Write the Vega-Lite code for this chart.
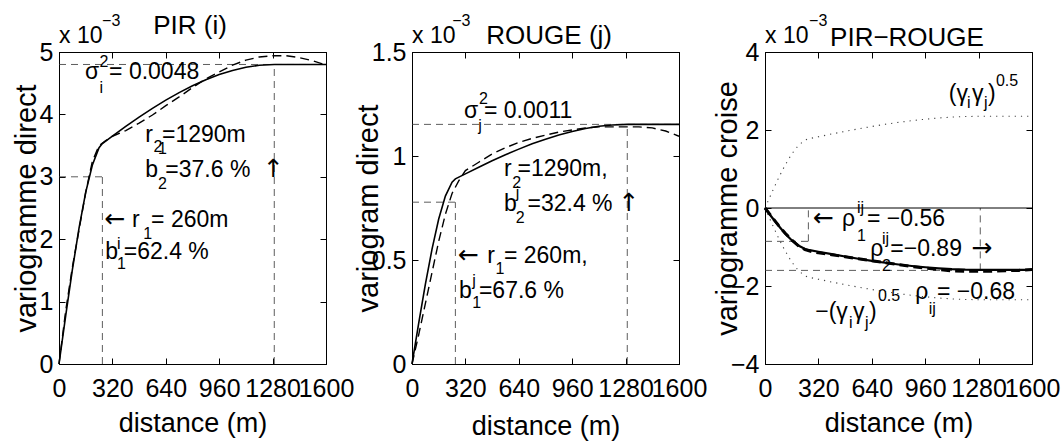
{
  "$schema": "https://vega.github.io/schema/vega-lite/v6.json",
  "background": "white",
  "padding": {"left": 11, "top": 12, "right": 5, "bottom": 2},
  "spacing": 86,
  "bounds": "flush",
  "config": {
    "font": "Liberation Sans",
    "view": {"stroke": "black", "strokeWidth": 1},
    "axis": {
      "grid": false, "domainColor": "black", "domainWidth": 1, "tickColor": "black", "tickSize": -6, "tickWidth": 1,
      "labelColor": "black", "labelFont": "Liberation Sans", "labelFontSize": 25, "labelOverlap": false, "labelFlush": false, "labelBound": false,
      "titleFont": "Liberation Sans", "titleFontWeight": "normal", "titleColor": "black"
    },
    "text": {"font": "Liberation Sans", "align": "left", "baseline": "alphabetic", "color": "black"}
  },
  "datasets": {
    "c1": [
      {"d":0,"v":0,"s":"modele"},{"d":40,"v":0.770,"s":"modele"},{"d":80,"v":1.507,"s":"modele"},{"d":120,"v":2.177,"s":"modele"},{"d":160,"v":2.750,"s":"modele"},{"d":200,"v":3.190,"s":"modele"},{"d":240,"v":3.467,"s":"modele"},{"d":260,"v":3.533,"s":"modele"},{"d":320,"v":3.653,"s":"modele"},{"d":400,"v":3.808,"s":"modele"},{"d":480,"v":3.956,"s":"modele"},{"d":560,"v":4.097,"s":"modele"},{"d":640,"v":4.228,"s":"modele"},{"d":720,"v":4.349,"s":"modele"},{"d":800,"v":4.459,"s":"modele"},{"d":880,"v":4.555,"s":"modele"},{"d":960,"v":4.638,"s":"modele"},{"d":1040,"v":4.705,"s":"modele"},{"d":1120,"v":4.755,"s":"modele"},{"d":1200,"v":4.787,"s":"modele"},{"d":1290,"v":4.8,"s":"modele"},{"d":1400,"v":4.8,"s":"modele"},{"d":1500,"v":4.8,"s":"modele"},{"d":1600,"v":4.8,"s":"modele"},
      {"d":0,"v":0,"s":"exp"},{"d":40,"v":0.85,"s":"exp"},{"d":80,"v":1.55,"s":"exp"},{"d":120,"v":2.15,"s":"exp"},{"d":160,"v":2.75,"s":"exp"},{"d":200,"v":3.25,"s":"exp"},{"d":240,"v":3.5,"s":"exp"},{"d":280,"v":3.58,"s":"exp"},{"d":320,"v":3.65,"s":"exp"},{"d":400,"v":3.74,"s":"exp"},{"d":480,"v":3.86,"s":"exp"},{"d":560,"v":3.99,"s":"exp"},{"d":640,"v":4.14,"s":"exp"},{"d":720,"v":4.28,"s":"exp"},{"d":800,"v":4.43,"s":"exp"},{"d":880,"v":4.57,"s":"exp"},{"d":960,"v":4.68,"s":"exp"},{"d":1040,"v":4.79,"s":"exp"},{"d":1120,"v":4.87,"s":"exp"},{"d":1200,"v":4.92,"s":"exp"},{"d":1280,"v":4.94,"s":"exp"},{"d":1360,"v":4.94,"s":"exp"},{"d":1440,"v":4.91,"s":"exp"},{"d":1520,"v":4.86,"s":"exp"},{"d":1600,"v":4.79,"s":"exp"}
    ],
    "c2": [
      {"d":0,"v":0,"s":"modele"},{"d":40,"v":0.195,"s":"modele"},{"d":80,"v":0.383,"s":"modele"},{"d":120,"v":0.552,"s":"modele"},{"d":160,"v":0.697,"s":"modele"},{"d":200,"v":0.807,"s":"modele"},{"d":240,"v":0.874,"s":"modele"},{"d":260,"v":0.890,"s":"modele"},{"d":320,"v":0.914,"s":"modele"},{"d":400,"v":0.946,"s":"modele"},{"d":480,"v":0.977,"s":"modele"},{"d":560,"v":1.006,"s":"modele"},{"d":640,"v":1.033,"s":"modele"},{"d":720,"v":1.059,"s":"modele"},{"d":800,"v":1.081,"s":"modele"},{"d":880,"v":1.101,"s":"modele"},{"d":960,"v":1.118,"s":"modele"},{"d":1040,"v":1.132,"s":"modele"},{"d":1120,"v":1.143,"s":"modele"},{"d":1200,"v":1.149,"s":"modele"},{"d":1290,"v":1.152,"s":"modele"},{"d":1400,"v":1.152,"s":"modele"},{"d":1500,"v":1.152,"s":"modele"},{"d":1600,"v":1.152,"s":"modele"},
      {"d":0,"v":0,"s":"exp"},{"d":40,"v":0.14,"s":"exp"},{"d":80,"v":0.29,"s":"exp"},{"d":120,"v":0.44,"s":"exp"},{"d":160,"v":0.59,"s":"exp"},{"d":200,"v":0.72,"s":"exp"},{"d":240,"v":0.82,"s":"exp"},{"d":280,"v":0.88,"s":"exp"},{"d":320,"v":0.93,"s":"exp"},{"d":400,"v":0.97,"s":"exp"},{"d":480,"v":1.01,"s":"exp"},{"d":560,"v":1.04,"s":"exp"},{"d":640,"v":1.065,"s":"exp"},{"d":720,"v":1.085,"s":"exp"},{"d":800,"v":1.10,"s":"exp"},{"d":880,"v":1.115,"s":"exp"},{"d":960,"v":1.125,"s":"exp"},{"d":1040,"v":1.135,"s":"exp"},{"d":1120,"v":1.14,"s":"exp"},{"d":1200,"v":1.14,"s":"exp"},{"d":1280,"v":1.14,"s":"exp"},{"d":1360,"v":1.14,"s":"exp"},{"d":1440,"v":1.135,"s":"exp"},{"d":1520,"v":1.12,"s":"exp"},{"d":1600,"v":1.095,"s":"exp"}
    ],
    "c3": [
      {"d":0,"v":0,"s":"modele"},{"d":40,"v":-0.230,"s":"modele"},{"d":80,"v":-0.450,"s":"modele"},{"d":120,"v":-0.652,"s":"modele"},{"d":160,"v":-0.825,"s":"modele"},{"d":200,"v":-0.961,"s":"modele"},{"d":240,"v":-1.050,"s":"modele"},{"d":260,"v":-1.073,"s":"modele"},{"d":320,"v":-1.121,"s":"modele"},{"d":400,"v":-1.184,"s":"modele"},{"d":480,"v":-1.244,"s":"modele"},{"d":560,"v":-1.301,"s":"modele"},{"d":640,"v":-1.354,"s":"modele"},{"d":720,"v":-1.403,"s":"modele"},{"d":800,"v":-1.448,"s":"modele"},{"d":880,"v":-1.487,"s":"modele"},{"d":960,"v":-1.520,"s":"modele"},{"d":1040,"v":-1.547,"s":"modele"},{"d":1120,"v":-1.568,"s":"modele"},{"d":1200,"v":-1.581,"s":"modele"},{"d":1290,"v":-1.586,"s":"modele"},{"d":1400,"v":-1.586,"s":"modele"},{"d":1500,"v":-1.586,"s":"modele"},{"d":1600,"v":-1.586,"s":"modele"},
      {"d":0,"v":0,"s":"exp"},{"d":40,"v":-0.22,"s":"exp"},{"d":80,"v":-0.44,"s":"exp"},{"d":120,"v":-0.64,"s":"exp"},{"d":160,"v":-0.82,"s":"exp"},{"d":200,"v":-0.97,"s":"exp"},{"d":240,"v":-1.07,"s":"exp"},{"d":280,"v":-1.12,"s":"exp"},{"d":320,"v":-1.15,"s":"exp"},{"d":400,"v":-1.20,"s":"exp"},{"d":480,"v":-1.25,"s":"exp"},{"d":560,"v":-1.30,"s":"exp"},{"d":640,"v":-1.35,"s":"exp"},{"d":720,"v":-1.40,"s":"exp"},{"d":800,"v":-1.45,"s":"exp"},{"d":880,"v":-1.50,"s":"exp"},{"d":960,"v":-1.54,"s":"exp"},{"d":1040,"v":-1.58,"s":"exp"},{"d":1120,"v":-1.61,"s":"exp"},{"d":1200,"v":-1.62,"s":"exp"},{"d":1280,"v":-1.62,"s":"exp"},{"d":1360,"v":-1.62,"s":"exp"},{"d":1440,"v":-1.61,"s":"exp"},{"d":1520,"v":-1.60,"s":"exp"},{"d":1600,"v":-1.58,"s":"exp"},
      {"d":0,"v":0,"s":"sup"},{"d":40,"v":0.387,"s":"sup"},{"d":80,"v":0.760,"s":"sup"},{"d":120,"v":1.096,"s":"sup"},{"d":160,"v":1.384,"s":"sup"},{"d":200,"v":1.604,"s":"sup"},{"d":240,"v":1.741,"s":"sup"},{"d":260,"v":1.773,"s":"sup"},{"d":320,"v":1.827,"s":"sup"},{"d":400,"v":1.898,"s":"sup"},{"d":480,"v":1.966,"s":"sup"},{"d":560,"v":2.030,"s":"sup"},{"d":640,"v":2.090,"s":"sup"},{"d":720,"v":2.146,"s":"sup"},{"d":800,"v":2.195,"s":"sup"},{"d":880,"v":2.239,"s":"sup"},{"d":960,"v":2.277,"s":"sup"},{"d":1040,"v":2.308,"s":"sup"},{"d":1120,"v":2.331,"s":"sup"},{"d":1200,"v":2.345,"s":"sup"},{"d":1290,"v":2.352,"s":"sup"},{"d":1400,"v":2.352,"s":"sup"},{"d":1500,"v":2.352,"s":"sup"},{"d":1600,"v":2.352,"s":"sup"},
      {"d":0,"v":0,"s":"inf"},{"d":40,"v":-0.387,"s":"inf"},{"d":80,"v":-0.760,"s":"inf"},{"d":120,"v":-1.096,"s":"inf"},{"d":160,"v":-1.384,"s":"inf"},{"d":200,"v":-1.604,"s":"inf"},{"d":240,"v":-1.741,"s":"inf"},{"d":260,"v":-1.773,"s":"inf"},{"d":320,"v":-1.827,"s":"inf"},{"d":400,"v":-1.898,"s":"inf"},{"d":480,"v":-1.966,"s":"inf"},{"d":560,"v":-2.030,"s":"inf"},{"d":640,"v":-2.090,"s":"inf"},{"d":720,"v":-2.146,"s":"inf"},{"d":800,"v":-2.195,"s":"inf"},{"d":880,"v":-2.239,"s":"inf"},{"d":960,"v":-2.277,"s":"inf"},{"d":1040,"v":-2.308,"s":"inf"},{"d":1120,"v":-2.331,"s":"inf"},{"d":1200,"v":-2.345,"s":"inf"},{"d":1290,"v":-2.352,"s":"inf"},{"d":1400,"v":-2.352,"s":"inf"},{"d":1500,"v":-2.352,"s":"inf"},{"d":1600,"v":-2.352,"s":"inf"}
    ],
    "r1": [{"d":0,"v":4.8,"d2":1600,"v2":4.8},{"d":0,"v":3.0,"d2":260,"v2":3.0},{"d":260,"v":0,"d2":260,"v2":3.0},{"d":1290,"v":0,"d2":1290,"v2":4.8}],
    "r2": [{"d":0,"v":1.152,"d2":1600,"v2":1.152},{"d":0,"v":0.778,"d2":260,"v2":0.778},{"d":260,"v":0,"d2":260,"v2":0.778},{"d":1290,"v":0,"d2":1290,"v2":1.152}],
    "r3": [{"d":0,"v":-1.6,"d2":1600,"v2":-1.6},{"d":0,"v":-0.855,"d2":260,"v2":-0.855},{"d":260,"v":-0.855,"d2":260,"v2":0},{"d":1290,"v":-1.6,"d2":1290,"v2":0}],
    "z3": [{"d":0,"v":0,"d2":1600,"v2":0}],
    "t1": [{"d":156,"v":4.57,"t":"σ"},{"d":300,"v":4.57,"t":"= 0.0048"},{"d":517,"v":3.55,"t":"r"},{"d":617,"v":3.55,"t":"=1290m"},{"d":517,"v":2.99,"t":"b"},{"d":637,"v":2.99,"t":"=37.6 %"},{"d":438,"v":2.2,"t":"r"},{"d":552,"v":2.2,"t":"= 260m"},{"d":277,"v":1.68,"t":"b"},{"d":388,"v":1.68,"t":"=62.4 %"},{"d":0,"v":5.15,"t":"x 10"}],
    "s1": [{"d":243,"v":4.76,"t":"2"},{"d":243,"v":4.34,"t":"i"},{"d":567,"v":3.39,"t":"2"},{"d":593,"v":3.36,"t":"1"},{"d":593,"v":2.8,"t":"2"},{"d":505,"v":2.0,"t":"1"},{"d":348,"v":1.84,"t":"i"},{"d":348,"v":1.52,"t":"1"},{"d":258,"v":5.42,"t":"−3"}],
    "a1": [{"d":1222,"v":2.99,"t":"↑"},{"d":272,"v":2.2,"t":"←"}],
    "t2": [{"d":311,"v":1.184,"t":"σ"},{"d":431,"v":1.184,"t":"= 0.0011"},{"d":551,"v":0.904,"t":"r"},{"d":632,"v":0.904,"t":"=1290m,"},{"d":551,"v":0.736,"t":"b"},{"d":692,"v":0.736,"t":"=32.4 %"},{"d":451,"v":0.487,"t":"r"},{"d":551,"v":0.487,"t":"= 260m,"},{"d":281,"v":0.319,"t":"b"},{"d":401,"v":0.319,"t":"=67.6 %"},{"d":0,"v":1.545,"t":"x 10"}],
    "s2": [{"d":401,"v":1.249,"t":"2"},{"d":397,"v":1.12,"t":"j"},{"d":601,"v":0.848,"t":"2"},{"d":621,"v":0.8,"t":"j"},{"d":621,"v":0.68,"t":"2"},{"d":501,"v":0.431,"t":"1"},{"d":361,"v":0.375,"t":"j"},{"d":361,"v":0.271,"t":"1"},{"d":241,"v":1.625,"t":"−3"}],
    "a2": [{"d":1238,"v":0.736,"t":"↑"},{"d":276,"v":0.487,"t":"←"}],
    "t3": [{"d":1101,"v":2.74,"t":"(γ"},{"d":1241,"v":2.74,"t":"γ"},{"d":1336,"v":2.74,"t":")"},{"d":461,"v":-0.46,"t":"ρ"},{"d":611,"v":-0.46,"t":"= −0.56"},{"d":631,"v":-1.23,"t":"ρ"},{"d":751,"v":-1.23,"t":"=−0.89"},{"d":901,"v":-2.34,"t":"ρ"},{"d":1031,"v":-2.34,"t":"= −0.68"},{"d":301,"v":-2.85,"t":"−(γ"},{"d":527,"v":-2.85,"t":"γ"},{"d":623,"v":-2.85,"t":")"},{"d":0,"v":4.24,"t":"x 10"}],
    "s3": [{"d":1211,"v":2.57,"t":"i"},{"d":1313,"v":2.57,"t":"j"},{"d":1384,"v":3.13,"t":"0.5"},{"d":551,"v":-0.12,"t":"ij"},{"d":551,"v":-0.846,"t":"1"},{"d":701,"v":-0.93,"t":"ij"},{"d":701,"v":-1.615,"t":"2"},{"d":981,"v":-2.73,"t":"ij"},{"d":503,"v":-3.08,"t":"i"},{"d":599,"v":-3.08,"t":"j"},{"d":677,"v":-2.38,"t":"0.5"},{"d":264,"v":4.67,"t":"−3"}],
    "a3": [{"d":287,"v":-0.46,"t":"←"},{"d":1236,"v":-1.23,"t":"→"}],
    "h1": [{"d":785,"v":5.29,"t":"PIR (i)"}],
    "h2": [{"d":822,"v":1.538,"t":"ROUGE (j)"}],
    "h3": [{"d":851,"v":4.15,"t":"PIR−ROUGE"}]
  },
  "hconcat": [
    {
      "width": 267, "height": 312,
      "layer": [
        {
          "layer": [
            {"data": {"name": "r1"}, "mark": {"type": "rule", "color": "#333", "strokeWidth": 0.8, "strokeDash": [7, 5]},
             "encoding": {
               "x": {"field": "d", "type": "quantitative", "scale": {"domain": [0, 1600], "nice": false},
                     "axis": {"orient": "bottom", "values": [0, 320, 640, 960, 1280, 1600], "format": "d", "title": "distance (m)", "titleFontSize": 27, "titleY": 67, "titleBaseline": "alphabetic", "labelPadding": 18}},
               "y": {"field": "v", "type": "quantitative", "scale": {"domain": [0, 5], "nice": false},
                     "axis": {"orient": "left", "values": [0, 1, 2, 3, 4, 5], "format": "~g", "title": "variogramme direct", "titleFontSize": 29, "titleX": -24, "titleBaseline": "alphabetic", "labelPadding": 12}},
               "x2": {"field": "d2"}, "y2": {"field": "v2"}}},
            {"data": {"name": "c1"}, "transform": [{"filter": "datum.s === 'exp'"}], "mark": {"type": "line", "color": "black", "strokeWidth": 1.4, "strokeDash": [9, 5]},
             "encoding": {"x": {"field": "d", "type": "quantitative", "scale": {"domain": [0, 1600], "nice": false}}, "y": {"field": "v", "type": "quantitative", "scale": {"domain": [0, 5], "nice": false}}}},
            {"data": {"name": "c1"}, "transform": [{"filter": "datum.s === 'modele'"}], "mark": {"type": "line", "color": "black", "strokeWidth": 1.6},
             "encoding": {"x": {"field": "d", "type": "quantitative", "scale": {"domain": [0, 1600], "nice": false}}, "y": {"field": "v", "type": "quantitative", "scale": {"domain": [0, 5], "nice": false}}}},
            {"data": {"name": "t1"}, "mark": {"type": "text", "fontSize": 23},
             "encoding": {"x": {"field": "d", "type": "quantitative", "scale": {"domain": [0, 1600], "nice": false}}, "y": {"field": "v", "type": "quantitative", "scale": {"domain": [0, 5], "nice": false}}, "text": {"field": "t"}}},
            {"data": {"name": "s1"}, "mark": {"type": "text", "fontSize": 16},
             "encoding": {"x": {"field": "d", "type": "quantitative", "scale": {"domain": [0, 1600], "nice": false}}, "y": {"field": "v", "type": "quantitative", "scale": {"domain": [0, 5], "nice": false}}, "text": {"field": "t"}}},
            {"data": {"name": "a1"}, "mark": {"type": "text", "fontSize": 25, "font": "DejaVu Sans"},
             "encoding": {"x": {"field": "d", "type": "quantitative", "scale": {"domain": [0, 1600], "nice": false}}, "y": {"field": "v", "type": "quantitative", "scale": {"domain": [0, 5], "nice": false}}, "text": {"field": "t"}}},
            {"data": {"name": "h1"}, "mark": {"type": "text", "fontSize": 26, "align": "center"},
             "encoding": {"x": {"field": "d", "type": "quantitative", "scale": {"domain": [0, 1600], "nice": false}}, "y": {"field": "v", "type": "quantitative", "scale": {"domain": [0, 5], "nice": false}}, "text": {"field": "t"}}}
          ]
        },
        {"data": {"name": "r1"}, "mark": {"type": "point", "opacity": 0},
         "encoding": {
           "x": {"field": "d", "type": "quantitative", "scale": {"domain": [0, 1600], "nice": false}, "axis": {"orient": "top", "labels": false, "title": null, "values": [0, 320, 640, 960, 1280, 1600]}},
           "y": {"field": "v", "type": "quantitative", "scale": {"domain": [0, 5], "nice": false}, "axis": {"orient": "right", "labels": false, "title": null, "values": [0, 1, 2, 3, 4, 5]}}}}
      ],
      "resolve": {"axis": {"x": "independent", "y": "independent"}}
    },
    {
      "width": 267, "height": 312,
      "layer": [
        {
          "layer": [
            {"data": {"name": "r2"}, "mark": {"type": "rule", "color": "#333", "strokeWidth": 0.8, "strokeDash": [7, 5]},
             "encoding": {
               "x": {"field": "d", "type": "quantitative", "scale": {"domain": [0, 1600], "nice": false},
                     "axis": {"orient": "bottom", "values": [0, 320, 640, 960, 1280, 1600], "format": "d", "title": "distance (m)", "titleFontSize": 27, "titleY": 70, "titleBaseline": "alphabetic", "labelPadding": 18}},
               "y": {"field": "v", "type": "quantitative", "scale": {"domain": [0, 1.5], "nice": false},
                     "axis": {"orient": "left", "values": [0, 0.5, 1, 1.5], "format": "~g", "title": "variogram direct", "titleFontSize": 29, "titleX": -35, "titleBaseline": "alphabetic", "labelPadding": 12}},
               "x2": {"field": "d2"}, "y2": {"field": "v2"}}},
            {"data": {"name": "c2"}, "transform": [{"filter": "datum.s === 'exp'"}], "mark": {"type": "line", "color": "black", "strokeWidth": 1.4, "strokeDash": [9, 5]},
             "encoding": {"x": {"field": "d", "type": "quantitative", "scale": {"domain": [0, 1600], "nice": false}}, "y": {"field": "v", "type": "quantitative", "scale": {"domain": [0, 1.5], "nice": false}}}},
            {"data": {"name": "c2"}, "transform": [{"filter": "datum.s === 'modele'"}], "mark": {"type": "line", "color": "black", "strokeWidth": 1.6},
             "encoding": {"x": {"field": "d", "type": "quantitative", "scale": {"domain": [0, 1600], "nice": false}}, "y": {"field": "v", "type": "quantitative", "scale": {"domain": [0, 1.5], "nice": false}}}},
            {"data": {"name": "t2"}, "mark": {"type": "text", "fontSize": 23},
             "encoding": {"x": {"field": "d", "type": "quantitative", "scale": {"domain": [0, 1600], "nice": false}}, "y": {"field": "v", "type": "quantitative", "scale": {"domain": [0, 1.5], "nice": false}}, "text": {"field": "t"}}},
            {"data": {"name": "s2"}, "mark": {"type": "text", "fontSize": 16},
             "encoding": {"x": {"field": "d", "type": "quantitative", "scale": {"domain": [0, 1600], "nice": false}}, "y": {"field": "v", "type": "quantitative", "scale": {"domain": [0, 1.5], "nice": false}}, "text": {"field": "t"}}},
            {"data": {"name": "a2"}, "mark": {"type": "text", "fontSize": 25, "font": "DejaVu Sans"},
             "encoding": {"x": {"field": "d", "type": "quantitative", "scale": {"domain": [0, 1600], "nice": false}}, "y": {"field": "v", "type": "quantitative", "scale": {"domain": [0, 1.5], "nice": false}}, "text": {"field": "t"}}},
            {"data": {"name": "h2"}, "mark": {"type": "text", "fontSize": 26, "align": "center"},
             "encoding": {"x": {"field": "d", "type": "quantitative", "scale": {"domain": [0, 1600], "nice": false}}, "y": {"field": "v", "type": "quantitative", "scale": {"domain": [0, 1.5], "nice": false}}, "text": {"field": "t"}}}
          ]
        },
        {"data": {"name": "r2"}, "mark": {"type": "point", "opacity": 0},
         "encoding": {
           "x": {"field": "d", "type": "quantitative", "scale": {"domain": [0, 1600], "nice": false}, "axis": {"orient": "top", "labels": false, "title": null, "values": [0, 320, 640, 960, 1280, 1600]}},
           "y": {"field": "v", "type": "quantitative", "scale": {"domain": [0, 1.5], "nice": false}, "axis": {"orient": "right", "labels": false, "title": null, "values": [0, 0.5, 1, 1.5]}}}}
      ],
      "resolve": {"axis": {"x": "independent", "y": "independent"}}
    },
    {
      "width": 267, "height": 312,
      "layer": [
        {
          "layer": [
            {"data": {"name": "r3"}, "mark": {"type": "rule", "color": "#333", "strokeWidth": 0.8, "strokeDash": [7, 5]},
             "encoding": {
               "x": {"field": "d", "type": "quantitative", "scale": {"domain": [0, 1600], "nice": false},
                     "axis": {"orient": "bottom", "values": [0, 320, 640, 960, 1280, 1600], "format": "d", "title": "distance (m)", "titleFontSize": 27, "titleY": 67, "titleBaseline": "alphabetic", "labelPadding": 18}},
               "y": {"field": "v", "type": "quantitative", "scale": {"domain": [-4, 4], "nice": false},
                     "axis": {"orient": "left", "values": [-4, -2, 0, 2, 4], "format": "~g", "title": "variogramme croise", "titleFontSize": 29, "titleX": -29, "titleBaseline": "alphabetic", "labelPadding": 12}},
               "x2": {"field": "d2"}, "y2": {"field": "v2"}}},
            {"data": {"name": "z3"}, "mark": {"type": "rule", "color": "black", "strokeWidth": 1},
             "encoding": {"x": {"field": "d", "type": "quantitative", "scale": {"domain": [0, 1600], "nice": false}}, "y": {"field": "v", "type": "quantitative", "scale": {"domain": [-4, 4], "nice": false}}, "x2": {"field": "d2"}, "y2": {"field": "v2"}}},
            {"data": {"name": "c3"}, "transform": [{"filter": "datum.s === 'sup' || datum.s === 'inf'"}], "mark": {"type": "line", "color": "#444", "strokeWidth": 1.1, "strokeDash": [1.2, 5]},
             "encoding": {"x": {"field": "d", "type": "quantitative", "scale": {"domain": [0, 1600], "nice": false}}, "y": {"field": "v", "type": "quantitative", "scale": {"domain": [-4, 4], "nice": false}}, "detail": {"field": "s"}}},
            {"data": {"name": "c3"}, "transform": [{"filter": "datum.s === 'exp'"}], "mark": {"type": "line", "color": "black", "strokeWidth": 3, "strokeDash": [9, 5]},
             "encoding": {"x": {"field": "d", "type": "quantitative", "scale": {"domain": [0, 1600], "nice": false}}, "y": {"field": "v", "type": "quantitative", "scale": {"domain": [-4, 4], "nice": false}}}},
            {"data": {"name": "c3"}, "transform": [{"filter": "datum.s === 'modele'"}], "mark": {"type": "line", "color": "black", "strokeWidth": 2.2},
             "encoding": {"x": {"field": "d", "type": "quantitative", "scale": {"domain": [0, 1600], "nice": false}}, "y": {"field": "v", "type": "quantitative", "scale": {"domain": [-4, 4], "nice": false}}}},
            {"data": {"name": "t3"}, "mark": {"type": "text", "fontSize": 23},
             "encoding": {"x": {"field": "d", "type": "quantitative", "scale": {"domain": [0, 1600], "nice": false}}, "y": {"field": "v", "type": "quantitative", "scale": {"domain": [-4, 4], "nice": false}}, "text": {"field": "t"}}},
            {"data": {"name": "s3"}, "mark": {"type": "text", "fontSize": 16},
             "encoding": {"x": {"field": "d", "type": "quantitative", "scale": {"domain": [0, 1600], "nice": false}}, "y": {"field": "v", "type": "quantitative", "scale": {"domain": [-4, 4], "nice": false}}, "text": {"field": "t"}}},
            {"data": {"name": "a3"}, "mark": {"type": "text", "fontSize": 25, "font": "DejaVu Sans"},
             "encoding": {"x": {"field": "d", "type": "quantitative", "scale": {"domain": [0, 1600], "nice": false}}, "y": {"field": "v", "type": "quantitative", "scale": {"domain": [-4, 4], "nice": false}}, "text": {"field": "t"}}},
            {"data": {"name": "h3"}, "mark": {"type": "text", "fontSize": 26, "align": "center"},
             "encoding": {"x": {"field": "d", "type": "quantitative", "scale": {"domain": [0, 1600], "nice": false}}, "y": {"field": "v", "type": "quantitative", "scale": {"domain": [-4, 4], "nice": false}}, "text": {"field": "t"}}}
          ]
        },
        {"data": {"name": "r3"}, "mark": {"type": "point", "opacity": 0},
         "encoding": {
           "x": {"field": "d", "type": "quantitative", "scale": {"domain": [0, 1600], "nice": false}, "axis": {"orient": "top", "labels": false, "title": null, "values": [0, 320, 640, 960, 1280, 1600]}},
           "y": {"field": "v", "type": "quantitative", "scale": {"domain": [-4, 4], "nice": false}, "axis": {"orient": "right", "labels": false, "title": null, "values": [-4, -2, 0, 2, 4]}}}}
      ],
      "resolve": {"axis": {"x": "independent", "y": "independent"}}
    }
  ]
}
